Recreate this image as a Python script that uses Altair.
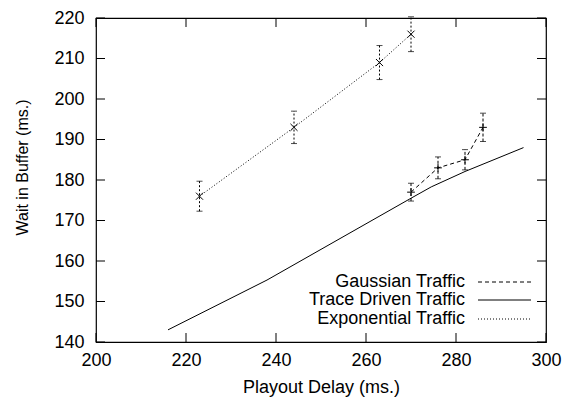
import altair as alt
import pandas as pd

# ---- data ----
trace_x = [216, 238, 270, 274.5, 282, 295]
trace_y = [143, 155.3, 175.5, 178.3, 182.1, 188]

gauss_x = [270, 276, 282, 286]
gauss_y = [177, 183, 185, 193]
gauss_err = [2.2, 2.7, 2.5, 3.5]

expo_x = [223, 244, 263, 270]
expo_y = [176, 193, 209, 216]
expo_err = [3.7, 4.0, 4.2, 4.3]

x_ticks = [200, 220, 240, 260, 280, 300]
y_ticks = [140, 150, 160, 170, 180, 190, 200, 210, 220]

legend_labels = ["Gaussian Traffic", "Trace Driven Traffic", "Exponential Traffic"]

W, H = 450, 324
FONT = "Liberation Sans"
FS = 18

xs = alt.Scale(domain=[200, 300], nice=False, zero=False)
ys = alt.Scale(domain=[140, 220], nice=False, zero=False)

trace = pd.DataFrame({"x": trace_x, "y": trace_y})
gauss = pd.DataFrame({"x": gauss_x, "y": gauss_y,
                      "lo": [v - e for v, e in zip(gauss_y, gauss_err)],
                      "hi": [v + e for v, e in zip(gauss_y, gauss_err)]})
expo = pd.DataFrame({"x": expo_x, "y": expo_y,
                     "lo": [v - e for v, e in zip(expo_y, expo_err)],
                     "hi": [v + e for v, e in zip(expo_y, expo_err)]})

X = alt.X("x:Q", scale=xs, title="Playout Delay (ms.)",
          axis=alt.Axis(values=x_ticks, ticks=False, domain=False, grid=False,
                        labelFlush=False, labelOverlap=False,
                        labelFont=FONT, labelFontSize=FS, labelColor="black",
                        labelPadding=9, titleFont=FONT, titleFontSize=FS,
                        titleFontWeight="normal", titleColor="black",
                        titleBaseline="middle", titleY=45))
Y = alt.Y("y:Q", scale=ys, title="Wait in Buffer (ms.)",
          axis=alt.Axis(values=y_ticks, ticks=False, domain=False, grid=False,
                        labelFlush=False, labelOverlap=False,
                        labelFont=FONT, labelFontSize=FS, labelColor="black",
                        labelPadding=12, titleFont=FONT, titleFontSize=16,
                        titleFontWeight="normal", titleColor="black",
                        titleAngle=270, titleBaseline="middle", titleAlign="center",
                        titleX=-74, titleY=149))

trace_line = alt.Chart(trace).mark_line(color="black", strokeWidth=1, clip=True).encode(x=X, y=Y)

gauss_line = alt.Chart(gauss).mark_line(color="black", strokeWidth=1, strokeDash=[4, 3]).encode(
    x=alt.X("x:Q", scale=xs), y=alt.Y("y:Q", scale=ys))
expo_line = alt.Chart(expo).mark_line(color="black", strokeWidth=1, strokeDash=[1, 2]).encode(
    x=alt.X("x:Q", scale=xs), y=alt.Y("y:Q", scale=ys))


def errbars(df, dash):
    bar = alt.Chart(df).mark_rule(color="black", strokeWidth=1, strokeDash=dash).encode(
        x=alt.X("x:Q", scale=xs), y=alt.Y("lo:Q", scale=ys), y2="hi:Q")
    cap_lo = alt.Chart(df).mark_tick(color="black", orient="horizontal", size=6, thickness=1).encode(
        x=alt.X("x:Q", scale=xs), y=alt.Y("lo:Q", scale=ys))
    cap_hi = alt.Chart(df).mark_tick(color="black", orient="horizontal", size=6, thickness=1).encode(
        x=alt.X("x:Q", scale=xs), y=alt.Y("hi:Q", scale=ys))
    return bar + cap_lo + cap_hi


plus_path = "M-1,0L1,0M0,-1L0,1"
cross_path = "M-1,-1L1,1M1,-1L-1,1"

gauss_pts = alt.Chart(gauss).mark_point(shape=plus_path, filled=False, size=60, color="black",
                                        strokeWidth=1, opacity=1).encode(
    x=alt.X("x:Q", scale=xs), y=alt.Y("y:Q", scale=ys))
expo_pts = alt.Chart(expo).mark_point(shape=cross_path, filled=False, size=50, color="black",
                                      strokeWidth=1, opacity=1).encode(
    x=alt.X("x:Q", scale=xs), y=alt.Y("y:Q", scale=ys))

# inward ticks on all four sides
xt = pd.DataFrame({"v": x_ticks})
yt = pd.DataFrame({"v": y_ticks})
TL = 9
tick_b = alt.Chart(xt).mark_rule(color="black", strokeWidth=1).encode(
    x=alt.X("v:Q", scale=xs), y=alt.value(H), y2=alt.value(H - TL))
tick_t = alt.Chart(xt).mark_rule(color="black", strokeWidth=1).encode(
    x=alt.X("v:Q", scale=xs), y=alt.value(0), y2=alt.value(TL))
tick_l = alt.Chart(yt).mark_rule(color="black", strokeWidth=1).encode(
    y=alt.Y("v:Q", scale=ys), x=alt.value(0), x2=alt.value(TL))
tick_r = alt.Chart(yt).mark_rule(color="black", strokeWidth=1).encode(
    y=alt.Y("v:Q", scale=ys), x=alt.value(W), x2=alt.value(W - TL))

# legend (manual, text left of sample)
leg_y = [264, 282, 301]
leg_dash = [[4, 3], [1, 0], [1, 2]]
legend_layers = []
for lab, yy, dash in zip(legend_labels, leg_y, leg_dash):
    legend_layers.append(
        alt.Chart(pd.DataFrame({"t": [lab]})).mark_text(
            align="right", baseline="middle", font=FONT, fontSize=FS, color="black").encode(
            text="t:N", x=alt.value(369), y=alt.value(yy)))
    legend_layers.append(
        alt.Chart(pd.DataFrame({"t": [lab]})).mark_rule(color="black", strokeWidth=1, strokeDash=dash).encode(
            x=alt.value(382), x2=alt.value(435), y=alt.value(yy)))

chart = alt.layer(
    trace_line, gauss_line, expo_line,
    errbars(gauss, [3, 2]), errbars(expo, [2, 2]),
    gauss_pts, expo_pts,
    tick_b, tick_t, tick_l, tick_r,
    *legend_layers
).properties(
    width=W, height=H,
    autosize=alt.AutoSizeParams(type="none"),
    padding={"left": 96, "top": 18, "right": 21, "bottom": 58},
    background="white"
).configure_view(stroke="black", strokeWidth=1.2)

chart.save("out.html", embed_options={"renderer": "svg", "actions": False})
